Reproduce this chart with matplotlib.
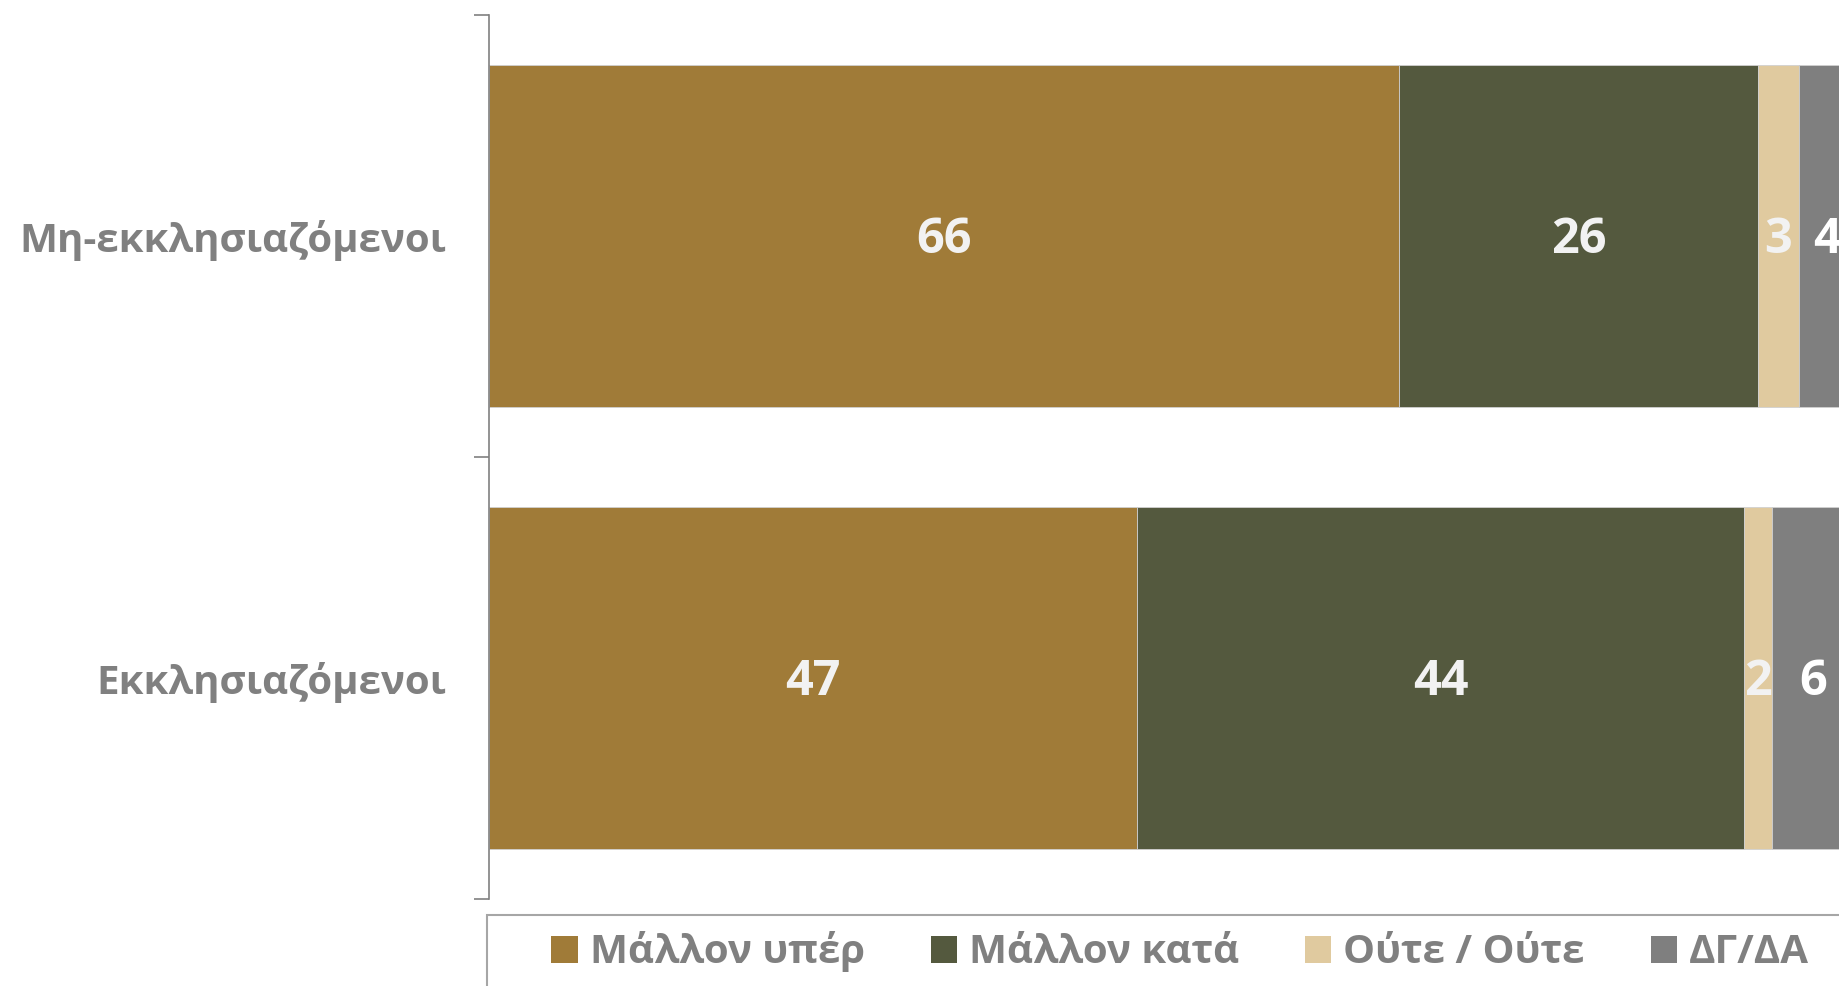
import numpy as np
import matplotlib.pyplot as plt
from matplotlib.patches import Rectangle

plt.rcParams['font.family'] = ['Open Sans', 'DejaVu Sans']

# survey groups (top to bottom) and answer shares in %
groups = ['Μη-εκκλησιαζόμενοι', 'Εκκλησιαζόμενοι']
series_names = ['Μάλλον υπέρ', 'Μάλλον κατά', 'Ούτε / Ούτε', 'ΔΓ/ΔΑ']
mallon_yper = [66, 47]
mallon_kata = [26, 44]
oute_oute = [3, 2]
dg_da = [4, 6]

colors = ['#A07B38', '#54593E', '#E0CA9F', '#7F7F7F']
label_colors = ['#F2F2F2', '#F2F2F2', '#F2F2F2', '#FFFFFF']
grey = '#808080'

fig = plt.figure(figsize=(18.4, 9.86), dpi=100)
ax = fig.add_axes([0.2658, 0.0882, 0.7495, 0.8966])

y = np.arange(len(groups))
left = np.zeros(len(groups))
for name, vals, c, lc in zip(series_names, [mallon_yper, mallon_kata, oute_oute, dg_da],
                             colors, label_colors):
    vals = np.array(vals, dtype=float)
    ax.barh(y, vals, left=left, height=0.775, color=c, label=name,
            edgecolor='#D0D0D0', linewidth=0.6)
    for yi, l, v in zip(y, left, vals):
        ax.text(l + v / 2, yi + 0.01, '%d' % v, ha='center', va='center',
                fontsize=35, fontweight='bold', color=lc, clip_on=False)
    left += vals

ax.set_xlim(0, 100)
ax.set_ylim(1.5, -0.5)
ax.set_xticks([])

# category labels at bar centres, tick marks at category boundaries
ax.set_yticks(y)
ax.set_yticklabels(groups, fontsize=29, fontweight='bold', color=grey)
ax.tick_params(axis='y', which='major', length=0, pad=31)
ax.set_yticks([-0.5, 0.5, 1.5], minor=True)
ax.tick_params(axis='y', which='minor', length=11, width=1.2, color=grey)

for s in ['top', 'right', 'bottom']:
    ax.spines[s].set_visible(False)
ax.spines['left'].set_color(grey)
ax.spines['left'].set_linewidth(1.2)

# legend below, its frame running off the figure
fig.patches.append(Rectangle((0.2647, -0.2), 0.8, 0.272, transform=fig.transFigure,
                             facecolor='none', edgecolor='#A6A6A6', linewidth=1.5))
handles, labels = ax.get_legend_handles_labels()
leg = fig.legend(handles, labels, loc='center left', bbox_to_anchor=(0.2997, 0.0345),
                 ncol=4, frameon=False, handlelength=0.65, handleheight=0.65,
                 handletextpad=0.3, columnspacing=1.64, borderpad=0, borderaxespad=0,
                 prop={'size': 29, 'weight': 'bold'})
for t in leg.get_texts():
    t.set_color(grey)
for h in leg.legend_handles:
    h.set_edgecolor('none')

fig.savefig('out.png', dpi=100)
